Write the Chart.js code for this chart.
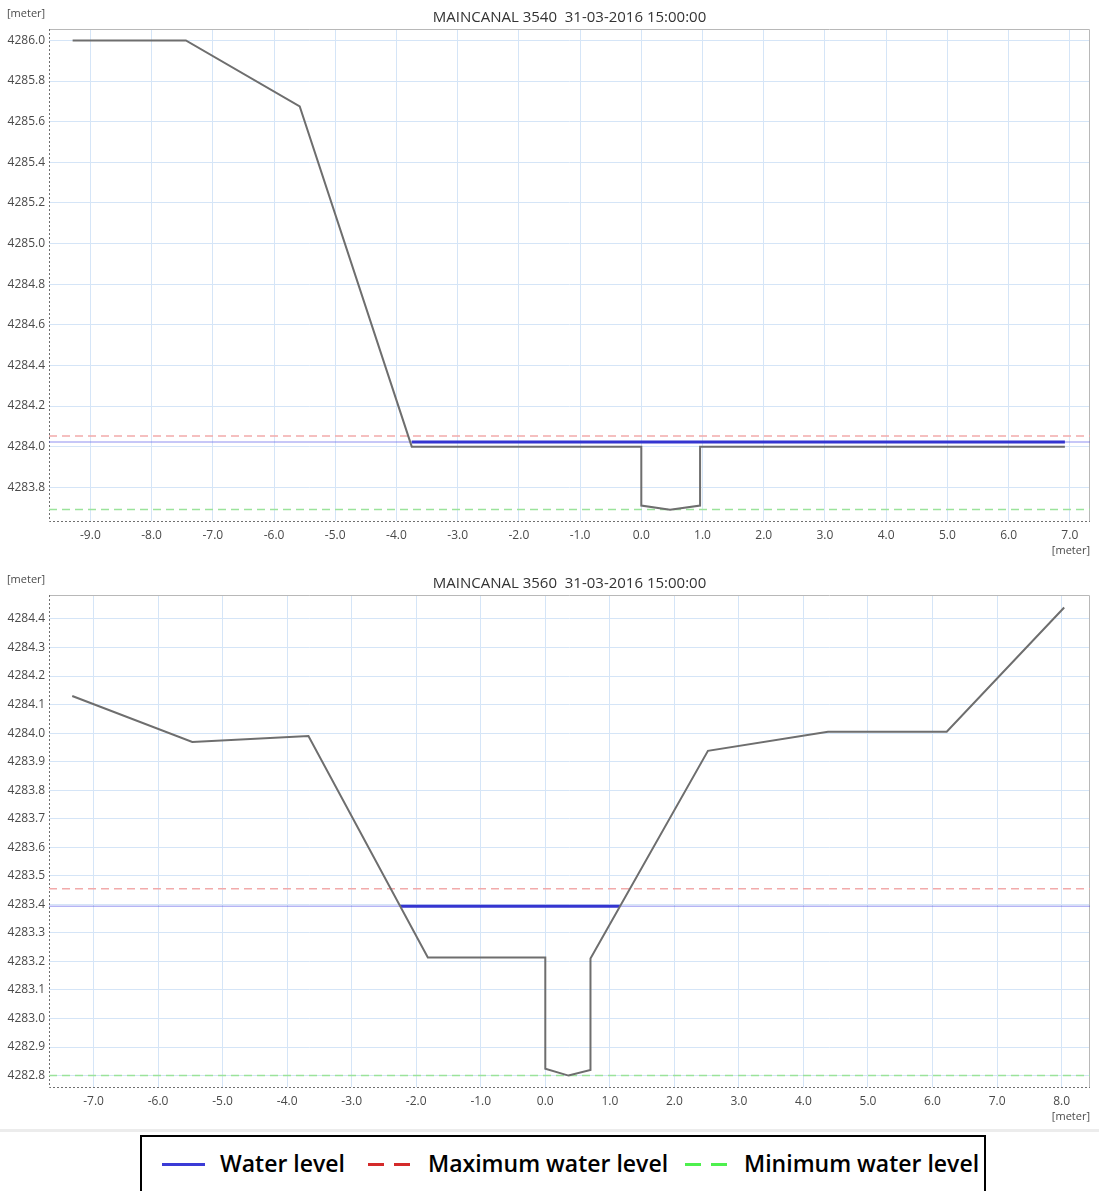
<!DOCTYPE html>
<html>
<head>
<meta charset="utf-8">
<script src="https://cdn.jsdelivr.net/npm/chart.js@4.4.0/dist/chart.umd.min.js"></script>
<style>
body{margin:0;background:#fff;width:1099px;height:1191px;position:relative;overflow:hidden;font-family:"Open Sans",sans-serif}
.wrap{position:absolute;left:0;width:1099px;height:565px}
#sep{position:absolute;left:0;top:1129px;width:1099px;height:3px;background:#ececec}
#legend{position:absolute;left:140px;top:1135px;width:846px;height:60px;border:2px solid #000;box-sizing:border-box;background:#fff}
.item{position:absolute;top:11px;font-size:23px;font-weight:600;color:#000;white-space:nowrap;line-height:30px}
.sw{position:absolute;top:26px;width:43px;height:3px}
</style>
</head>
<body>
<div class="wrap" style="top:0"><canvas id="topChart"></canvas></div>
<div class="wrap" style="top:565px"><canvas id="botChart"></canvas></div>
<div id="sep"></div>
<div id="legend">
  <div class="sw" style="left:20px;background:#3b3bd6"></div>
  <div class="item" style="left:78px">Water level</div>
  <div class="sw" style="left:226px;background:repeating-linear-gradient(90deg,#d42a2a 0 16px,transparent 16px 26px)"></div>
  <div class="item" style="left:286px">Maximum water level</div>
  <div class="sw" style="left:543px;background:repeating-linear-gradient(90deg,#4ef04e 0 16px,transparent 16px 26px)"></div>
  <div class="item" style="left:602px">Minimum water level</div>
</div>
<script>
// Section 1: MAINCANAL 3540
const topTitle = "MAINCANAL 3540  31-03-2016 15:00:00";
const topX = [-9.29, -7.44, -5.58, -3.75, 0.0, 0.0, 0.47, 0.96, 0.96, 6.92];
const topBed = [4286.0, 4286.0, 4285.675, 4284.0, 4284.0, 4283.71, 4283.69, 4283.71, 4284.0, 4284.0];
const topWetX = [-3.75, 6.92];
const topWater = 4284.023;
const topMax = 4284.053;
const topMin = 4283.69;
const topXRange = [-9.676, 7.33];
const topYRange = [4283.634, 4286.056];
const topYStep = 0.2;

// Section 2: MAINCANAL 3560
const botTitle = "MAINCANAL 3560  31-03-2016 15:00:00";
const botX = [-7.33, -5.47, -3.67, -1.82, 0.0, 0.0, 0.36, 0.70, 0.70, 2.52, 4.38, 6.22, 8.04];
const botBed = [4284.13, 4283.969, 4283.99, 4283.214, 4283.214, 4282.824, 4282.80, 4282.82, 4283.21, 4283.938, 4284.005, 4284.005, 4284.44];
const botWetX = [-2.25, 1.157];
const botWater = 4283.393;
const botMax = 4283.455;
const botMin = 4282.80;
const botXRange = [-7.69, 8.44];
const botYRange = [4282.76, 4284.484];
const botYStep = 0.1;

const unitLabel = "[meter]";
const gridColor = "#d5e5f7";
const tickColor = "#4a4a4a";

// titles, unit labels and plot frame
const decor = {
    id: "decor",
    beforeDatasetsDraw(chart) {
        const { ctx, chartArea: a } = chart;
        ctx.save();
        ctx.lineWidth = 1;
        ctx.strokeStyle = "#b8b8b8";
        ctx.beginPath();
        ctx.moveTo(a.left, a.top + 0.5);
        ctx.lineTo(a.right - 0.5, a.top + 0.5);
        ctx.lineTo(a.right - 0.5, a.bottom);
        ctx.stroke();
        // dotted left and bottom axis lines
        ctx.strokeStyle = "#707070";
        ctx.setLineDash([2, 2]);
        ctx.beginPath();
        ctx.moveTo(a.left + 0.5, a.top);
        ctx.lineTo(a.left + 0.5, a.bottom + 0.5);
        ctx.lineTo(a.right, a.bottom + 0.5);
        ctx.stroke();
        ctx.restore();
    },
    afterDraw(chart, args, opts) {
        const { ctx, chartArea: a } = chart;
        ctx.save();
        ctx.fillStyle = "#333";
        ctx.font = "15px 'Open Sans'";
        ctx.textAlign = "center";
        ctx.textBaseline = "middle";
        ctx.fillText(opts.title, (a.left + a.right) / 2, a.top - 11);
        ctx.fillStyle = tickColor;
        ctx.font = "11px 'Open Sans'";
        ctx.textAlign = "left";
        ctx.fillText(unitLabel, 7, a.top - 15);
        ctx.textAlign = "right";
        ctx.fillText(unitLabel, a.right, a.bottom + 30);
        ctx.restore();
    }
};

function levelLine(xr, y) {
    return [{ x: xr[0], y: y }, { x: xr[1], y: y }];
}

function makeChart(id, s) {
    const bed = s.x.map((v, i) => ({ x: v, y: s.bed[i] }));
    return new Chart(document.getElementById(id), {
        type: "line",
        data: {
            datasets: [
                { label: "Profile", data: bed, borderColor: "#6e6e6e", borderWidth: 2, order: 0 },
                { label: "Water level", data: levelLine(s.wetX, s.water), borderColor: "#3535d0", borderWidth: 3, order: 1 },
                { label: "Water level (full)", data: levelLine(s.xr, s.water), borderColor: "rgba(90,90,230,0.45)", borderWidth: 1.5, order: 2 },
                { label: "Maximum water level", data: levelLine(s.xr, s.max), borderColor: "#f2aaaa", borderWidth: 1.5, borderDash: [8, 5], order: 3 },
                { label: "Minimum water level", data: levelLine(s.xr, s.min), borderColor: "#9be39b", borderWidth: 1.5, borderDash: [8, 5], order: 4 }
            ]
        },
        options: {
            responsive: false,
            animation: false,
            layout: { padding: { top: s.padTop, right: 9, left: 0, bottom: 0 } },
            elements: { point: { radius: 0 }, line: { tension: 0 } },
            plugins: { legend: { display: false }, tooltip: { enabled: false }, decor: { title: s.title } },
            scales: {
                x: {
                    type: "linear", min: s.xr[0], max: s.xr[1],
                    afterFit(sc) { sc.height = s.xAxisH; },
                    grid: { color: gridColor, drawTicks: false },
                    border: { display: false },
                    ticks: { stepSize: 1, includeBounds: false, color: tickColor, padding: 7,
                        font: { family: "Open Sans", size: 12 }, maxRotation: 0,
                        callback: v => v.toFixed(1) }
                },
                y: {
                    type: "linear", min: s.yr[0], max: s.yr[1],
                    afterFit(sc) { sc.width = 49; },
                    grid: { color: gridColor, drawTicks: false },
                    border: { display: false },
                    ticks: { stepSize: s.yStep, includeBounds: false, color: tickColor, padding: 4,
                        font: { family: "Open Sans", size: 12 },
                        callback: v => v.toFixed(1) }
                }
            }
        },
        plugins: [decor]
    });
}

function sizeCanvas(id) {
    const c = document.getElementById(id);
    c.width = 1099; c.height = 565;
    c.style.width = "1099px"; c.style.height = "565px";
}
sizeCanvas("topChart");
sizeCanvas("botChart");

makeChart("topChart", { title: topTitle, x: topX, bed: topBed, wetX: topWetX, water: topWater,
    max: topMax, min: topMin, xr: topXRange, yr: topYRange, yStep: topYStep, padTop: 29, xAxisH: 44 });
makeChart("botChart", { title: botTitle, x: botX, bed: botBed, wetX: botWetX, water: botWater,
    max: botMax, min: botMin, xr: botXRange, yr: botYRange, yStep: botYStep, padTop: 30, xAxisH: 43 });
</script>
</body>
</html>
